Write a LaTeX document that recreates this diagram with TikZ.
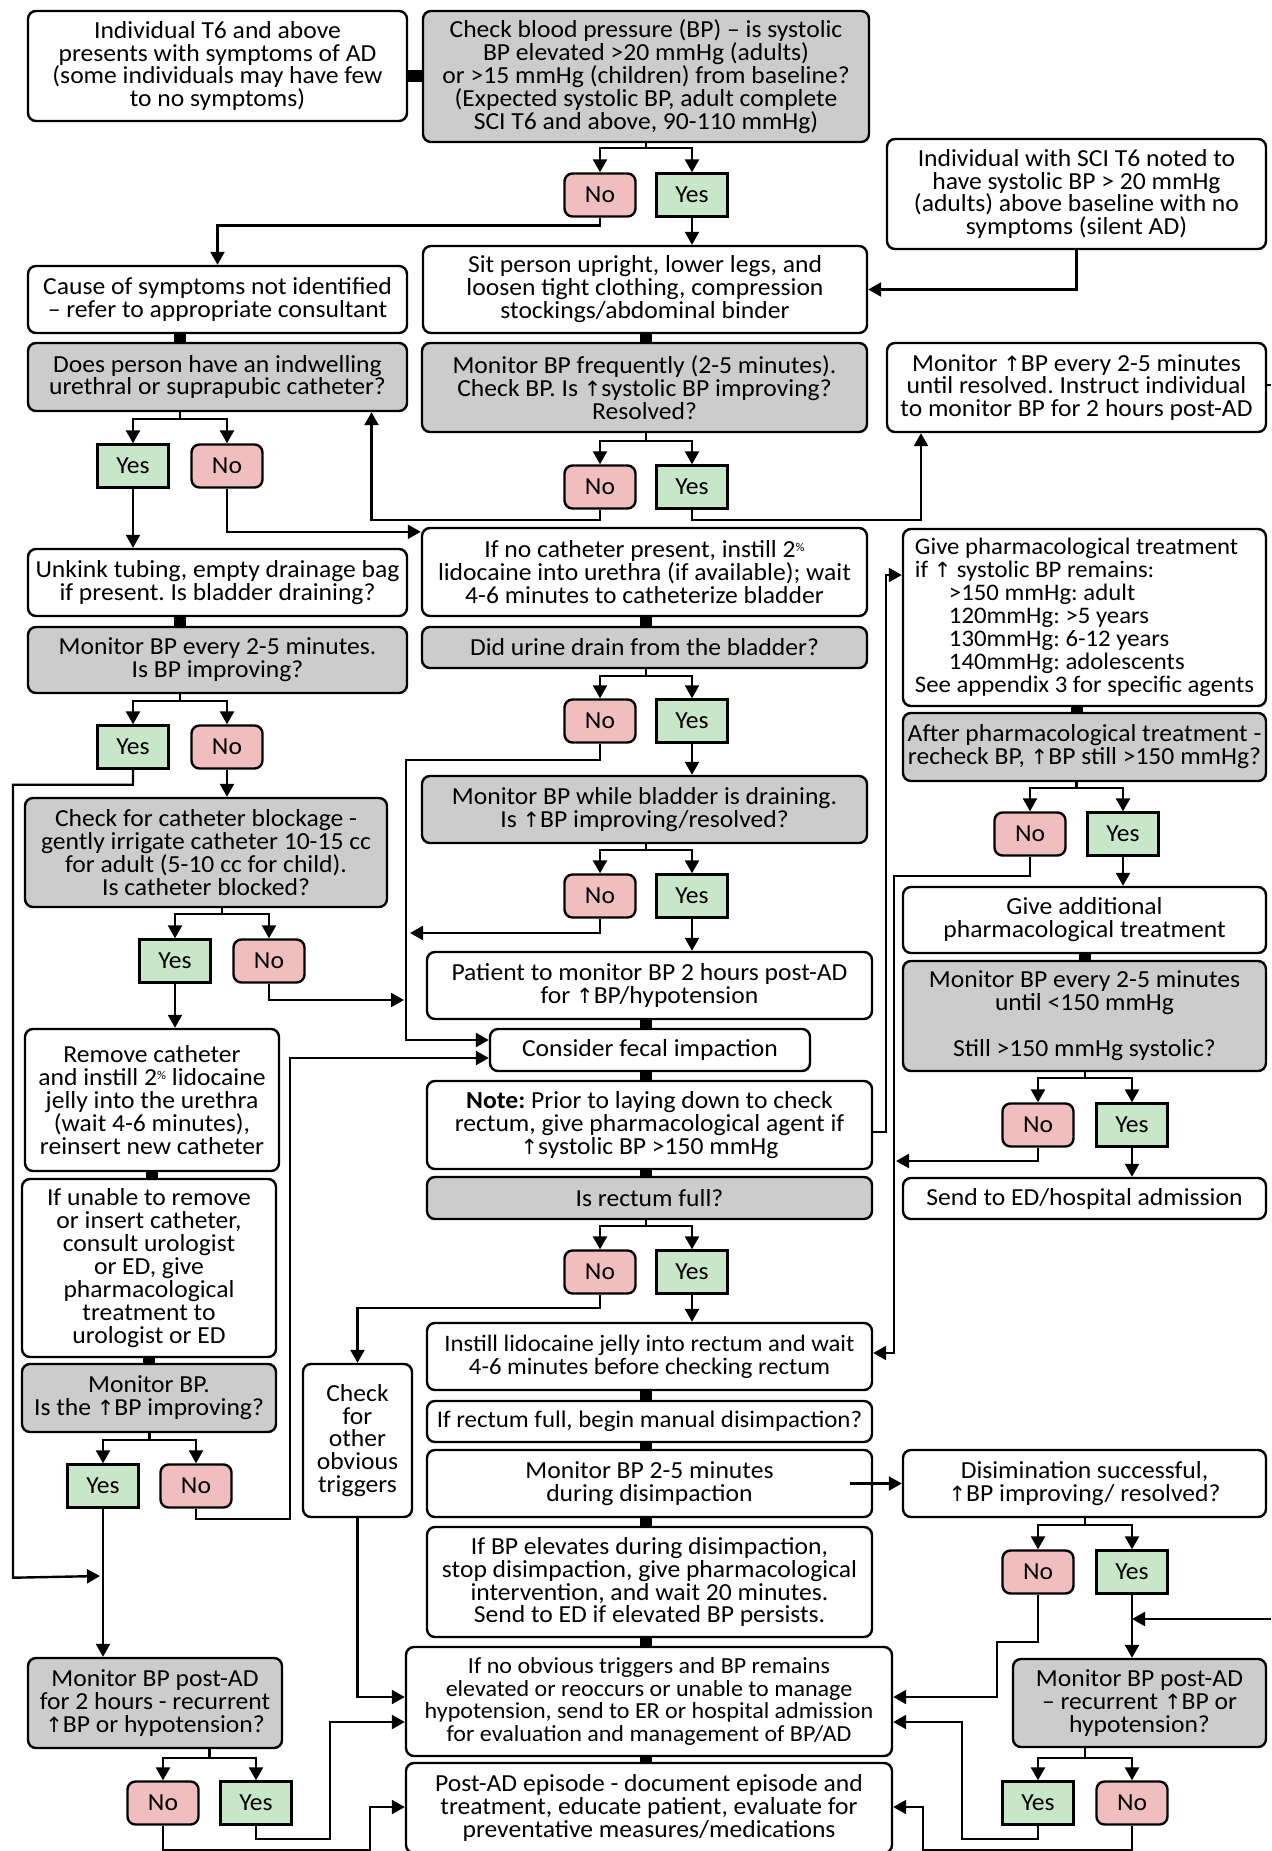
\documentclass[tikz,border=0pt]{standalone}
\usepackage{fontspec}
\setmainfont{Carlito}[FakeStretch=1.045]
\newfontfamily\arrfont{DejaVu Sans}
\usetikzlibrary{arrows.meta,calc}
\definecolor{askgray}{RGB}{204,204,204}
\definecolor{nopink}{RGB}{241,190,192}
\definecolor{yesgreen}{RGB}{199,231,200}
\newcommand{\boxfont}{\fontsize{24.5}{22.9}\selectfont}
\newcommand{\bpup}{{\arrfont\fontsize{21}{22.9}\selectfont ↑}}
\newcommand{\pct}{\raisebox{6pt}{\fontsize{12}{12}\selectfont\%}}
\tikzset{
  stepbox/.style = {draw, line width=2.4pt, rounded corners=8pt, align=center, inner sep=1pt, font=\boxfont},
  askbox/.style = {stepbox, fill=askgray},
  nobox/.style = {stepbox, fill=nopink, minimum width=71pt, minimum height=43pt},
  yesbox/.style = {stepbox, sharp corners, fill=yesgreen, minimum width=71pt, minimum height=43pt},
  flow/.style = {line width=2.4pt, -{Triangle[length=13pt,width=14pt]}},
  stub/.style = {line width=2.4pt},
  bar/.style = {line width=12pt},
}

\begin{document}
\lineskiplimit=-50pt
\frenchspacing
\begin{tikzpicture}[x=1pt,y=-1pt]
\useasboundingbox (0,0) rectangle (1271,1851);

% Left column
\node[stepbox, minimum width=379pt, minimum height=110pt] (start) at (217.5,66)
  {Individual T6 and above\\presents with symptoms of AD\\(some individuals may have few\\to no symptoms)};
\node[stepbox, minimum width=379pt, minimum height=67pt] (cause) at (217.5,299.5)
  {Cause of symptoms not identified\\– refer to appropriate consultant};
\node[askbox, minimum width=379pt, minimum height=68pt] (cath) at (217.5,377)
  {Does person have an indwelling\\urethral or suprapubic catheter?};
\node[yesbox] (y2) at (133,466) {Yes};
\node[nobox] (n2) at (227,466) {No};
\node[stepbox, minimum width=379pt, minimum height=67pt] (unkink) at (217.5,582.5)
  {Unkink tubing, empty drainage bag\\if present. Is bladder draining?};
\node[askbox, minimum width=379pt, minimum height=66pt] (monbp) at (217.5,660)
  {Monitor BP every 2-5 minutes.\\Is BP improving?};
\node[yesbox] (y4) at (133,747) {Yes};
\node[nobox] (n4) at (227,747) {No};
\node[askbox, minimum width=362pt, minimum height=109pt] (block) at (206,852.5)
  {Check for catheter blockage -\\gently irrigate catheter 10-15 cc\\for adult (5-10 cc for child).\\Is catheter blocked?};
\node[yesbox] (y5) at (175,961) {Yes};
\node[nobox] (n5) at (269,961) {No};
\node[stepbox, minimum width=254pt, minimum height=142pt] (remove) at (152,1100)
  {Remove catheter\\and instill 2\pct{} lidocaine\\jelly into the urethra\\(wait 4-6 minutes),\\reinsert new catheter};
\node[stepbox, minimum width=254pt, minimum height=178pt] (unable) at (149,1268)
  {If unable to remove\\or insert catheter,\\consult urologist\\or ED, give\\pharmacological\\treatment to\\urologist or ED};
\node[askbox, minimum width=254pt, minimum height=68pt] (monup) at (149,1398)
  {Monitor BP.\\Is the \bpup BP improving?};
\node[yesbox] (y6) at (103,1486) {Yes};
\node[nobox] (n6) at (196,1486) {No};
\node[stepbox, minimum width=109pt, minimum height=153pt] (trig) at (357.5,1440.5)
  {Check\\for\\other\\obvious\\triggers};
\node[askbox, minimum width=254pt, minimum height=90pt] (postad) at (155,1703)
  {Monitor BP post-AD\\for 2 hours - recurrent\\\bpup BP or hypotension?};
\node[nobox] (n7) at (163,1803) {No};
\node[yesbox] (y7) at (256,1803) {Yes};

% Middle column
\node[askbox, minimum width=446pt, minimum height=131pt] (check) at (646,76.5)
  {Check blood pressure (BP) – is systolic\\BP elevated >20 mmHg (adults)\\or >15 mmHg (children) from baseline?\\(Expected systolic BP, adult complete\\SCI T6 and above, 90-110 mmHg)};
\node[nobox] (n1) at (600,195) {No};
\node[yesbox] (y1) at (692,195) {Yes};
\node[stepbox, minimum width=444pt, minimum height=87pt] (sit) at (645,289.5)
  {Sit person upright, lower legs, and\\loosen tight clothing, compression\\stockings/abdominal binder};
\node[askbox, minimum width=445pt, minimum height=89pt] (monfreq) at (644.5,387.5)
  {Monitor BP frequently (2-5 minutes).\\Check BP. Is \bpup systolic BP improving?\\Resolved?};
\node[nobox] (n3) at (600,487) {No};
\node[yesbox] (y3) at (692,487) {Yes};
\node[stepbox, minimum width=445pt, minimum height=88pt] (lido) at (644.5,572)
  {If no catheter present, instill 2\pct\\lidocaine into urethra (if available); wait\\4-6 minutes to catheterize bladder};
\node[askbox, minimum width=445pt, minimum height=41pt] (urine) at (644.5,647.5)
  {Did urine drain from the bladder?};
\node[nobox] (n9) at (600,721) {No};
\node[yesbox] (y9) at (692,721) {Yes};
\node[askbox, minimum width=445pt, minimum height=67pt] (drain) at (644.5,809.5)
  {Monitor BP while bladder is draining.\\Is \bpup BP improving/resolved?};
\node[nobox] (n10) at (600,896) {No};
\node[yesbox] (y10) at (692,896) {Yes};
\node[stepbox, minimum width=445pt, minimum height=67pt] (patient) at (649.5,985.5)
  {Patient to monitor BP 2 hours post-AD\\for \bpup BP/hypotension};
\node[stepbox, minimum width=320pt, minimum height=42pt] (fecal) at (650,1050)
  {Consider fecal impaction};
\node[stepbox, minimum width=445pt, minimum height=88pt] (note) at (649.5,1125)
  {\textbf{Note:} Prior to laying down to check\\rectum, give pharmacological agent if\\\bpup systolic BP >150 mmHg};
\node[askbox, minimum width=445pt, minimum height=42pt] (rectum) at (649.5,1198)
  {Is rectum full?};
\node[nobox] (n8) at (600,1272) {No};
\node[yesbox] (y8) at (692,1272) {Yes};
\node[stepbox, minimum width=445pt, minimum height=67pt, font=\fontsize{23.6}{22.9}\selectfont] (instill) at (649.5,1356.5)
  {Instill lidocaine jelly into rectum and wait\\4-6 minutes before checking rectum};
\node[stepbox, minimum width=445pt, minimum height=41pt, font=\fontsize{23.8}{22.9}\selectfont] (disimp) at (649.5,1421.5)
  {If rectum full, begin manual disimpaction?};
\node[stepbox, minimum width=445pt, minimum height=67pt] (mondis) at (649.5,1483.5)
  {Monitor BP 2-5 minutes\\during disimpaction};
\node[stepbox, minimum width=445pt, minimum height=110pt] (elev) at (649.5,1582)
  {If BP elevates during disimpaction,\\stop disimpaction, give pharmacological\\intervention, and wait 20 minutes.\\Send to ED if elevated BP persists.};
\node[stepbox, minimum width=486pt, minimum height=109pt, font=\fontsize{23}{22.9}\selectfont] (noobv) at (649,1701.5)
  {If no obvious triggers and BP remains\\elevated or reoccurs or unable to manage\\hypotension, send to ER or hospital admission\\for evaluation and management of BP/AD};
\node[stepbox, minimum width=486pt, minimum height=90pt] (postep) at (649,1808)
  {Post-AD episode - document episode and\\treatment, educate patient, evaluate for\\preventative measures/medications};

% Right column
\node[stepbox, minimum width=379pt, minimum height=110pt] (silent) at (1076.5,194)
  {Individual with SCI T6 noted to\\have systolic BP > 20 mmHg\\(adults) above baseline with no\\symptoms (silent AD)};
\node[stepbox, minimum width=379pt, minimum height=89pt] (mon25) at (1076.5,387.5)
  {Monitor \bpup BP every 2-5 minutes\\until resolved. Instruct individual\\to monitor BP for 2 hours post-AD};
\node[stepbox, align=left, minimum width=363pt, minimum height=177pt, font=\fontsize{23.7}{23.1}\selectfont] (pharm) at (1084.5,617.5)
  {Give pharmacological treatment\\if \bpup\ systolic BP remains:\\\hspace*{34pt}>150 mmHg: adult\\\hspace*{34pt}120mmHg: >5 years\\\hspace*{34pt}130mmHg: 6-12 years\\\hspace*{34pt}140mmHg: adolescents\\See appendix 3 for specific agents};
\node[askbox, minimum width=363pt, minimum height=68pt] (after) at (1084.5,747)
  {After pharmacological treatment -\\recheck BP, \bpup BP still >150 mmHg?};
\node[nobox] (n11) at (1030,834) {No};
\node[yesbox] (y11) at (1123,834) {Yes};
\node[stepbox, minimum width=363pt, minimum height=66pt] (addl) at (1084.5,920)
  {Give additional\\pharmacological treatment};
\node[askbox, minimum width=363pt, minimum height=110pt] (mon150) at (1084.5,1016)
  {Monitor BP every 2-5 minutes\\until <150 mmHg\\[23pt]Still >150 mmHg systolic?};
\node[nobox] (n12) at (1038,1125) {No};
\node[yesbox] (y12) at (1132,1125) {Yes};
\node[stepbox, minimum width=363pt, minimum height=41pt] (ed) at (1084.5,1198.5)
  {Send to ED/hospital admission};
\node[stepbox, minimum width=363pt, minimum height=67pt] (success) at (1084.5,1483.5)
  {Disimination successful,\\\bpup BP improving/ resolved?};
\node[nobox] (n13) at (1038,1572) {No};
\node[yesbox] (y13) at (1132,1572) {Yes};
\node[askbox, minimum width=253pt, minimum height=88pt] (postad2) at (1139.5,1703)
  {Monitor BP post-AD\\– recurrent \bpup BP or\\hypotension?};
\node[yesbox] (y14) at (1038,1803) {Yes};
\node[nobox] (n14) at (1132,1803) {No};

% split points and loose ends
\coordinate (s1) at ($(n1)!.5!(y1)$);
\coordinate (s2) at ($(y2)!.5!(n2)$);
\coordinate (s3) at ($(n3)!.5!(y3)$);
\coordinate (s4) at ($(y4)!.5!(n4)$);
\coordinate (s5) at ($(y5)!.5!(n5)$);
\coordinate (s6) at ($(y6)!.5!(n6)$);
\coordinate (s7) at ($(n7)!.5!(y7)$);
\coordinate (s8) at ($(n8)!.5!(y8)$);
\coordinate (s9) at ($(n9)!.5!(y9)$);
\coordinate (s10) at ($(n10)!.5!(y10)$);
\coordinate (s11) at ($(n11)!.5!(y11)$);
\coordinate (s12) at ($(n12)!.5!(y12)$);
\coordinate (s13) at ($(n13)!.5!(y13)$);
\coordinate (s14) at ($(y14)!.5!(n14)$);
\coordinate (mrgA) at (410,933);
\coordinate (mrgB) at (404,1000);
\coordinate (mrgC) at (896,1161);
\coordinate (mrgD) at (100,1576);
\coordinate (offR1) at (1271,385);
\coordinate (offR2) at (1271,1619);

% joining bars
\draw[bar] (start.east |- check) -- (check.west);
\draw[bar] (s2 |- cause.south) -- (s2 |- cath.north);
\draw[bar] (s4 |- unkink.south) -- (s4 |- monbp.north);
\draw[bar] (remove.south) -- (remove.south |- unable.north);
\draw[bar] (unable.south) -- (unable.south |- monup.north);
\draw[bar] (s3 |- sit.south) -- (s3 |- monfreq.north);
\draw[bar] (s3 |- lido.south) -- (s3 |- urine.north);
\draw[bar] (s3 |- patient.south) -- (s3 |- fecal.north);
\draw[bar] (s3 |- fecal.south) -- (s3 |- note.north);
\draw[bar] (s3 |- note.south) -- (s3 |- rectum.north);
\draw[bar] (s3 |- instill.south) -- (s3 |- disimp.north);
\draw[bar] (s3 |- disimp.south) -- (s3 |- mondis.north);
\draw[bar] (s3 |- mondis.south) -- (s3 |- elev.north);
\draw[bar] (s3 |- elev.south) -- (s3 |- noobv.north);
\draw[bar] (s3 |- noobv.south) -- (s3 |- postep.north);
\draw[bar] (s11 |- pharm.south) -- (s11 |- after.north);
\draw[bar] (s12 |- addl.south) -- (s12 |- mon150.north);

% Yes/No splits
\draw[flow] (s1 |- check.south) -- ++(0,5) -| (n1);
\draw[flow] (s1 |- check.south) -- ++(0,5) -| (y1);
\draw[flow] (s2 |- cath.south) -- ++(0,7) -| (y2);
\draw[flow] (s2 |- cath.south) -- ++(0,7) -| (n2);
\draw[flow] (s3 |- monfreq.south) -- ++(0,8) -| (n3);
\draw[flow] (s3 |- monfreq.south) -- ++(0,8) -| (y3);
\draw[flow] (s4 |- monbp.south) -- ++(0,7) -| (y4);
\draw[flow] (s4 |- monbp.south) -- ++(0,7) -| (n4);
\draw[flow] (s5 |- block.south) -- ++(0,6) -| (y5);
\draw[flow] (s5 |- block.south) -- ++(0,6) -| (n5);
\draw[flow] (s6 |- monup.south) -- ++(0,7) -| (y6);
\draw[flow] (s6 |- monup.south) -- ++(0,7) -| (n6);
\draw[flow] (s7 |- postad.south) -- ++(0,9) -| (n7);
\draw[flow] (s7 |- postad.south) -- ++(0,9) -| (y7);
\draw[flow] (s8 |- rectum.south) -- ++(0,6) -| (n8);
\draw[flow] (s8 |- rectum.south) -- ++(0,6) -| (y8);
\draw[flow] (s9 |- urine.south) -- ++(0,7) -| (n9);
\draw[flow] (s9 |- urine.south) -- ++(0,7) -| (y9);
\draw[flow] (s10 |- drain.south) -- ++(0,6) -| (n10);
\draw[flow] (s10 |- drain.south) -- ++(0,6) -| (y10);
\draw[flow] (s11 |- after.south) -- ++(0,6) -| (n11);
\draw[flow] (s11 |- after.south) -- ++(0,6) -| (y11);
\draw[flow] (s12 |- mon150.south) -- ++(0,6) -| (n12);
\draw[flow] (s12 |- mon150.south) -- ++(0,6) -| (y12);
\draw[flow] (s13 |- success.south) -- ++(0,7) -| (n13);
\draw[flow] (s13 |- success.south) -- ++(0,7) -| (y13);
\draw[flow] (s14 |- postad2.south) -- ++(0,10) -| (y14);
\draw[flow] (s14 |- postad2.south) -- ++(0,10) -| (n14);

% straight arrows
\draw[flow] (y1) -- (y1 |- sit.north);
\draw[flow] (y2) -- (y2 |- unkink.north);
\draw[flow] (n4) -- (n4 |- block.north);
\draw[flow] (y5) -- (y5 |- remove.north);
\draw[flow] (y6) -- (y6 |- postad.north);
\draw[flow] (y9) -- (y9 |- drain.north);
\draw[flow] (y10) -- (y10 |- patient.north);
\draw[flow] (y8) -- (y8 |- instill.north);
\draw[flow] (y11) -- (y11 |- addl.north);
\draw[flow] (y12) -- (y12 |- ed.north);
\draw[flow] (y13) -- (y13 |- postad2.north);
\draw[flow] ([xshift=-23]mondis.east) -- (success.west);

% bent arrows
\draw[flow] (n1.south) -- ++(0,8) -| (cause);
\draw[flow] (silent.south) |- (sit);
\draw[flow] (n3.south) -- ++(0,10) -| ([xshift=154]cath.south);
\draw[flow] (y3.south) -- ++(0,10) -| ([xshift=-155.5]mon25.south);
\draw[flow] (n2) |- ([yshift=-5]lido.north west);
\draw[flow] (n9.south) -- ++(0,16) -| ([xshift=-83,yshift=10]fecal.west) -- ([yshift=10]fecal.west);
\draw[flow] (n10) |- (mrgA);
\draw[flow] (n5) |- (mrgB);
\draw[flow] (n6.south) -- ++(0,10) -| ([xshift=-199,yshift=-8]fecal.west) -- ([yshift=-8]fecal.west);
\draw[flow] (y4.south) -- ++(0,15) -| ++(-120,793) -- (mrgD);
\draw[flow] ([yshift=-7]note.east) -- ++(13,0) |- ([yshift=42.5]pharm.west);
\draw[flow] (n11.south) -- ++(0,19) -| ([xshift=21,yshift=3.5]instill.east) -- ([yshift=3.5]instill.east);
\draw[flow] (n12) |- (mrgC);
\draw[flow] (n8.south) -- ++(0,13) -| (trig);
\draw[flow] (trig) |- ([yshift=4.5]noobv.west);
\draw[flow] (y7.south) -- ++(0,13) -| ([xshift=-75,yshift=-20.5]noobv.west) -- ([yshift=-20.5]noobv.west);
\draw[flow] (n7.south) -- ++(0,24) -| ([xshift=-35,yshift=1]postep.west) -- ([yshift=1]postep.west);
\draw[flow] (n13.south) -- ++(0,47) -| ([xshift=104,yshift=4.5]noobv.east) -- ([yshift=4.5]noobv.east);
\draw[flow] (y14.south) -- ++(0,13) -| ([xshift=69,yshift=-20.5]noobv.east) -- ([yshift=-20.5]noobv.east);
\draw[flow] (n14.south) -- ++(0,24) -| ([xshift=30,yshift=1]postep.east) -- ([yshift=1]postep.east);
\draw[stub] (mon25.east |- offR1) -- (offR1);
\draw[flow] (offR2) -- (y13 |- offR2);

\end{tikzpicture}
\end{document}
